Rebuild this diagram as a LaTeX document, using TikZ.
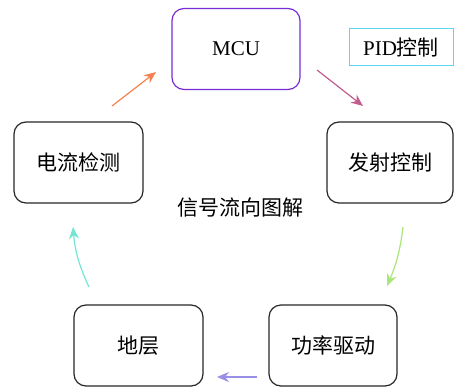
\documentclass[tikz,border=0pt]{standalone}
\usepackage{fontspec}
\setmainfont{Liberation Serif}
\newfontfamily\cjk{Noto Sans CJK SC}
\usepackage{tikz}
\usetikzlibrary{
  arrows.meta,
  chains,
  scopes
}

\definecolor{mcuviolet}{RGB}{122,44,212}
\definecolor{pidcyan}{RGB}{92,214,242}
\definecolor{flowcoral}{RGB}{245,129,79}
\definecolor{flowrose}{RGB}{194,91,142}
\definecolor{flowlime}{RGB}{168,230,122}
\definecolor{flowlilac}{RGB}{154,143,230}
\definecolor{flowaqua}{RGB}{115,230,210}

\begin{document}
\begin{tikzpicture}[
      x=1pt,y=1pt,
      block/.style={
         rectangle,
         rounded corners=12pt,
         minimum width=128pt,
         minimum height=81pt,
         inner sep=0pt,
         line width=1.2pt,
         draw=black!85,
         font=\cjk\fontsize{21}{24}\selectfont
      },
      note/.style={
         rectangle,
         minimum width=104pt,
         minimum height=37pt,
         inner sep=0pt,
         line width=1pt,
         draw=pidcyan,
         font=\fontsize{21}{24}\selectfont
      },
      point/.style={coordinate},
      tip/.style={-{Stealth[length=12pt,width=10pt]},line width=1.2pt},
      every join/.style={tip}
    ]
    \useasboundingbox (0,0) rectangle (454,389);
    % boxes
    \node (mcu)   [block, draw=mcuviolet, font=\fontsize{21}{24}\selectfont] at (236,340) {MCU};
    \node (pid)   [note] at (401,341.5) {PID{\cjk 控制}};
    \node (emit)  [block, minimum width=126pt] at (390,226.5) {发射控制};
    \node (curr)  [block, minimum width=129pt] at (78.5,226.5) {电流检测};
    \node (gnd)   [block, minimum width=129pt] at (138.5,43.5) {地层};
    \node (drive) [block] at (333,43.5) {功率驱动};
    \node (title) [font=\cjk\fontsize{21}{24}\selectfont] at (240,181) {信号流向图解};
    % arrow ends
    \node (p11) [point] at (112,283) {};
    \node (p12) [point] at (156,317) {};
    \node (p21) [point] at (317,319) {};
    \node (p22) [point] at (363,283) {};
    \node (p31) [point] at (403,162) {};
    \node (p32) [point] at (387,103) {};
    \node (p41) [point] at (257,12) {};
    \node (p42) [point] at (217,12) {};
    \node (p51) [point] at (89,102) {};
    \node (p52) [point] at (73,162) {};
  { [start chain]
       \chainin (p11);
       \chainin (p12)    [join=by flowcoral];
  }
  { [start chain]
       \chainin (p21);
       \chainin (p22)    [join=by flowrose];
  }
  { [start chain]
       \chainin (p31);
       \chainin (p32)    [join=by {flowlime,bend left=8}];
  }
  { [start chain]
       \chainin (p41);
       \chainin (p42)    [join=by flowlilac];
  }
  { [start chain]
       \chainin (p51);
       \chainin (p52)    [join=by {flowaqua,bend left=10}];
  }
\end{tikzpicture}
\end{document}
